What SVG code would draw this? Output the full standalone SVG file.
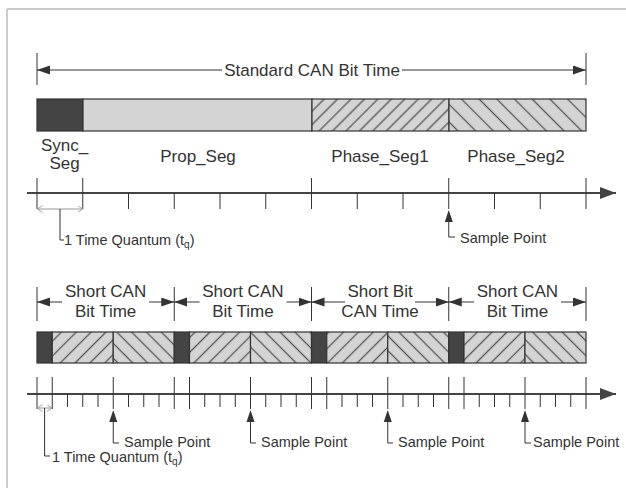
<svg xmlns="http://www.w3.org/2000/svg" width="626" height="488" viewBox="0 0 626 488">
<defs>
<style>
text{font-family:"Liberation Sans",Arial,sans-serif;fill:#333}
.lbl{font-size:17px}
.sm{font-size:14.5px}
.tk{stroke:#333;stroke-width:1}
.ln{stroke:#333;stroke-width:1;fill:none}
.ax{stroke:#444;stroke-width:2}
.gl{stroke:#999;stroke-width:1;fill:none}
.sync{fill:#444;stroke:#333;stroke-width:1.2}
.bar{stroke:#333;stroke-width:1.2}
</style>
<pattern id="hf" width="9.5" height="9.5" patternUnits="userSpaceOnUse" patternTransform="rotate(45)"><rect width="9.5" height="9.5" fill="#d4d4d4"/><line x1="4.75" y1="0" x2="4.75" y2="9.5" stroke="#555" stroke-width="1.3"/></pattern>
<pattern id="hb" width="12.5" height="12.5" patternUnits="userSpaceOnUse" patternTransform="rotate(-45)"><rect width="12.5" height="12.5" fill="#d4d4d4"/><line x1="6.25" y1="0" x2="6.25" y2="12.5" stroke="#555" stroke-width="1.3"/></pattern>
<pattern id="hf2" width="10.5" height="10.5" patternUnits="userSpaceOnUse" patternTransform="rotate(45)"><rect width="10.5" height="10.5" fill="#d4d4d4"/><line x1="5.25" y1="0" x2="5.25" y2="10.5" stroke="#555" stroke-width="1.3"/></pattern>
<pattern id="hb2" width="10.5" height="10.5" patternUnits="userSpaceOnUse" patternTransform="rotate(-45)"><rect width="10.5" height="10.5" fill="#d4d4d4"/><line x1="5.25" y1="0" x2="5.25" y2="10.5" stroke="#555" stroke-width="1.3"/></pattern>
<marker id="ah" markerUnits="userSpaceOnUse" markerWidth="14" markerHeight="10" refX="13" refY="4.5" orient="auto"><path d="M0,0 L13,4.5 L0,9 z" fill="#333"/></marker>
<marker id="ax" markerUnits="userSpaceOnUse" markerWidth="18" markerHeight="14" refX="16" refY="6" orient="auto"><path d="M0,0 L16,6 L0,12 z" fill="#444"/></marker>
<marker id="ch" markerUnits="userSpaceOnUse" markerWidth="8" markerHeight="8" refX="5" refY="3.5" orient="auto"><path d="M0,0 L5,3.5 L0,7" fill="none" stroke="#999" stroke-width="0.9"/></marker>
</defs>

<g id="frame">
<line x1="7" y1="9" x2="626" y2="9" stroke="#bbb" stroke-width="1.5"/>
<line x1="7" y1="9" x2="7" y2="488" stroke="#bbb" stroke-width="1.5"/>
</g>

<!-- Top section -->
<g id="standard-bit-time">
<line class="tk" x1="37" y1="53" x2="37" y2="85"/>
<line class="tk" x1="586" y1="53" x2="586" y2="85"/>
<text class="lbl" x="312" y="76" text-anchor="middle">Standard CAN Bit Time</text>
</g>

<g id="top-bar">
<rect x="37" y="99" width="46" height="32" class="sync"/>
<rect x="83" y="99" width="229" height="32" fill="#d4d4d4" class="bar"/>
<rect x="312" y="99" width="137" height="32" fill="url(#hf)" class="bar"/>
<rect x="449" y="99" width="137" height="32" fill="url(#hb)" class="bar"/>
</g>

<g id="top-labels">
<text class="lbl" x="64.5" y="151" text-anchor="middle">Sync_</text>
<text class="lbl" x="64.5" y="169" text-anchor="middle">Seg</text>
<text class="lbl" x="198" y="162" text-anchor="middle">Prop_Seg</text>
<text class="lbl" x="380" y="162" text-anchor="middle">Phase_Seg1</text>
<text class="lbl" x="516" y="162" text-anchor="middle">Phase_Seg2</text>
</g>

<g id="top-axis">
<line class="ax" x1="27" y1="193" x2="616" y2="193" marker-end="url(#ax)"/>
<path class="tk" d="M37,178V209 M82.75,178V209 M128.5,193V209 M174.25,193V209 M220,193V209 M265.75,193V209 M311.5,178V209 M357.25,193V209 M403,193V209 M448.75,178V209 M494.5,193V209 M540.25,193V209 M586,178V209"/>
</g>

<g id="top-tq">
<line class="gl" x1="60" y1="209" x2="37.5" y2="209" marker-end="url(#ch)"/>
<line class="gl" x1="60" y1="209" x2="82.5" y2="209" marker-end="url(#ch)"/>
<path class="ln" d="M60,209V240H64"/>
<text class="sm" x="64" y="245">1 Time Quantum (t<tspan font-size="10" dy="3">q</tspan><tspan dy="-3">)</tspan></text>
</g>

<g id="top-sample">
<path d="M448.75,210 L444.75,222 L452.75,222 z" fill="#333"/>
<path class="ln" d="M448.75,222V237H455"/>
<text class="sm" x="460" y="243">Sample Point</text>
</g>

<!-- Bottom section -->
<g id="short-bit-1">
<text class="lbl" x="105.6" y="297" text-anchor="middle">Short CAN</text>
<text class="lbl" x="105.6" y="317" text-anchor="middle">Bit Time</text>
<rect x="37" y="332" width="15.25" height="31" class="sync"/>
<rect x="52.25" y="332" width="61" height="31" fill="url(#hf2)" class="bar"/>
<rect x="113.25" y="332" width="61" height="31" fill="url(#hb2)" class="bar"/>
</g>
<g id="short-bit-2">
<text class="lbl" x="242.9" y="297" text-anchor="middle">Short CAN</text>
<text class="lbl" x="242.9" y="317" text-anchor="middle">Bit Time</text>
<rect x="174.25" y="332" width="15.25" height="31" class="sync"/>
<rect x="189.5" y="332" width="61" height="31" fill="url(#hf2)" class="bar"/>
<rect x="250.5" y="332" width="61" height="31" fill="url(#hb2)" class="bar"/>
</g>
<g id="short-bit-3">
<text class="lbl" x="380.1" y="297" text-anchor="middle">Short Bit</text>
<text class="lbl" x="380.1" y="317" text-anchor="middle">CAN Time</text>
<rect x="311.5" y="332" width="15.25" height="31" class="sync"/>
<rect x="326.75" y="332" width="61" height="31" fill="url(#hf2)" class="bar"/>
<rect x="387.75" y="332" width="61" height="31" fill="url(#hb2)" class="bar"/>
</g>
<g id="short-bit-4">
<text class="lbl" x="517.4" y="297" text-anchor="middle">Short CAN</text>
<text class="lbl" x="517.4" y="317" text-anchor="middle">Bit Time</text>
<rect x="448.75" y="332" width="15.25" height="31" class="sync"/>
<rect x="464" y="332" width="61" height="31" fill="url(#hf2)" class="bar"/>
<rect x="525" y="332" width="61" height="31" fill="url(#hb2)" class="bar"/>
</g>

<g id="bottom-axis">
<line class="ax" x1="27" y1="394" x2="616" y2="394" marker-end="url(#ax)"/>
<path class="tk" d="M37,377V409 M52.25,377V409 M67.5,394V407 M82.75,394V407 M98,394V407 M113.25,377V409 M128.5,394V407 M143.75,394V407 M159,394V407 M174.25,377V409 M189.5,377V409 M204.75,394V407 M220,394V407 M235.25,394V407 M250.5,377V409 M265.75,394V407 M281,394V407 M296.25,394V407 M311.5,377V409 M326.75,377V409 M342,394V407 M357.25,394V407 M372.5,394V407 M387.75,377V409 M403,394V407 M418.25,394V407 M433.5,394V407 M448.75,377V409 M464,377V409 M479.25,394V407 M494.5,394V407 M509.75,394V407 M525,377V409 M540.25,394V407 M555.5,394V407 M570.75,394V407 M586,377V409"/>
</g>

<g id="bottom-tq">
<line class="gl" x1="44.6" y1="408" x2="37.5" y2="408" marker-end="url(#ch)"/>
<line class="gl" x1="44.6" y1="408" x2="51.8" y2="408" marker-end="url(#ch)"/>
<path class="ln" d="M44.6,408V456H50"/>
<text class="sm" x="52" y="462">1 Time Quantum (t<tspan font-size="10" dy="3">q</tspan><tspan dy="-3">)</tspan></text>
</g>

<g id="bottom-samples">
<path d="M113.25,410 L109.25,422 L117.25,422 z" fill="#333"/>
<path class="ln" d="M113.25,422V443H119"/>
<text class="sm" x="124" y="447">Sample Point</text>
<path d="M250.5,410 L246.5,422 L254.5,422 z" fill="#333"/>
<path class="ln" d="M250.5,422V443H256"/>
<text class="sm" x="261" y="447">Sample Point</text>
<path d="M387.75,410 L383.75,422 L391.75,422 z" fill="#333"/>
<path class="ln" d="M387.75,422V443H393"/>
<text class="sm" x="398" y="447">Sample Point</text>
<path d="M525,410 L521,422 L529,422 z" fill="#333"/>
<path class="ln" d="M525,422V443H531"/>
<text class="sm" x="533" y="447">Sample Point</text>
</g>

<g id="connectors">
<line class="ln" x1="222" y1="70" x2="37" y2="70" marker-end="url(#ah)"/>
<line class="ln" x1="402" y1="70" x2="586" y2="70" marker-end="url(#ah)"/>
<path class="tk" d="M37,287V321 M174.25,287V321 M311.5,287V321 M448.75,287V321 M586,287V321"/>
<line class="ln" x1="62" y1="302" x2="37" y2="302" marker-end="url(#ah)"/>
<line class="ln" x1="149" y1="302" x2="174.25" y2="302" marker-end="url(#ah)"/>
<line class="ln" x1="199.5" y1="302" x2="174.25" y2="302" marker-end="url(#ah)"/>
<line class="ln" x1="286.5" y1="302" x2="311.5" y2="302" marker-end="url(#ah)"/>
<line class="ln" x1="345" y1="302" x2="311.5" y2="302" marker-end="url(#ah)"/>
<line class="ln" x1="415" y1="302" x2="448.75" y2="302" marker-end="url(#ah)"/>
<line class="ln" x1="474" y1="302" x2="448.75" y2="302" marker-end="url(#ah)"/>
<line class="ln" x1="561" y1="302" x2="586" y2="302" marker-end="url(#ah)"/>
</g>
</svg>
